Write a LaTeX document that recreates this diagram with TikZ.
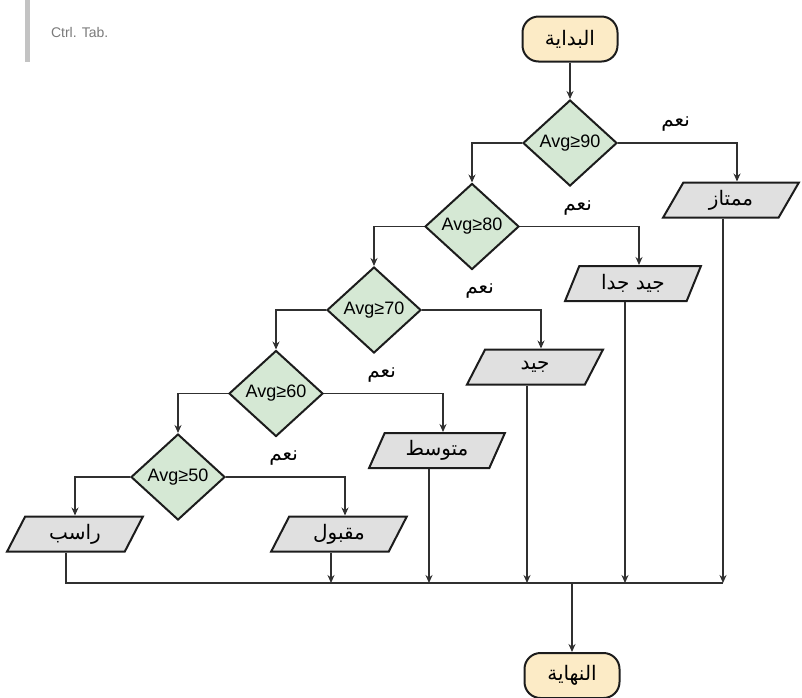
\documentclass[tikz,border=0pt]{standalone}
\usepackage{fontspec}
\setmainfont{Liberation Sans}
\newfontfamily\arabicfont[Script=Arabic]{DejaVu Sans}
\TeXXeTstate=1
\usepackage{tikz}
\usetikzlibrary{positioning,shapes.geometric,arrows.meta}
\definecolor{ink}{HTML}{1C1C1C}
\definecolor{wire}{HTML}{303030}
\definecolor{termfill}{HTML}{FCEBC6}
\definecolor{decfill}{HTML}{D5E8D4}
\definecolor{resfill}{HTML}{E0E0E0}
\definecolor{muted}{HTML}{7A7A7A}
\newcommand{\artxt}[1]{{\normalsize\arabicfont\beginR #1\endR}}

\begin{document}
\begin{tikzpicture}[
  x=0.5pt, y=-0.5pt,
  font=\small,
  on grid,
  term/.style={draw=ink, fill=termfill, line width=1pt, rounded corners=8pt, minimum width=47.5pt, minimum height=22.5pt, inner sep=0pt},
  dec/.style={diamond, draw=ink, fill=decfill, line width=1pt, minimum width=47pt, minimum height=43pt, inner sep=0pt},
  result/.style={trapezium, trapezium left angle=65, trapezium right angle=115, trapezium stretches=true, draw=ink, fill=resfill, line width=1pt, minimum width=68pt, minimum height=17.5pt, inner sep=0pt},
  lbl/.style={inner sep=1pt},
  arr/.style={-{Stealth[length=4pt,width=3.5pt]}, wire, line width=0.9pt},
  wireline/.style={wire, line width=0.9pt},
]
\useasboundingbox (0,0) rectangle (802,697);

% caption mark
\fill[muted!45] (25,0) rectangle (30,62);
\node[font=\scriptsize, text=muted, anchor=west] (cap) at (44,32) {Ctrl. Tab.};

% start and decisions
\node[term] (start) at (570,39) {\artxt{البداية}};
\node[dec, below=52pt of start] (d90) {Avg≥90};
\node[dec, below left=41.75pt and 49pt of d90] (d80) {Avg≥80};
\node[dec, below left=41.75pt and 49pt of d80] (d70) {Avg≥70};
\node[dec, below left=41.75pt and 49pt of d70] (d60) {Avg≥60};
\node[dec, below left=41.75pt and 49pt of d60] (d50) {Avg≥50};

% grades
\node[result, below right=28.5pt and 80.5pt of d90] (mumtaz) {\artxt{ممتاز}};
\node[result, below right=28.5pt and 80.5pt of d80] (jjiddan) {\artxt{جيد جدا}};
\node[result, below right=28.5pt and 80.5pt of d70] (jayyid) {\artxt{جيد}};
\node[result, below right=28.5pt and 80.5pt of d60] (mutaw) {\artxt{متوسط}};
\node[result, below right=28.5pt and 80.5pt of d50] (maqbul) {\artxt{مقبول}};
\node[result, below left=28.5pt and 51.5pt of d50] (rasib) {\artxt{راسب}};

% yes labels
\node[lbl, above right=4.5pt and 20.5pt of d90.east] (y90) {\artxt{نعم}};
\node[lbl, above right=4.5pt and 20.5pt of d80.east] (y80) {\artxt{نعم}};
\node[lbl, above right=4.5pt and 20.5pt of d70.east] (y70) {\artxt{نعم}};
\node[lbl, above right=4.5pt and 20.5pt of d60.east] (y60) {\artxt{نعم}};
\node[lbl, above right=4.5pt and 20.5pt of d50.east] (y50) {\artxt{نعم}};

% end
\coordinate (bus) at (572,583);
\node[term, below=34.5pt of bus] (finish) {\artxt{النهاية}};

% connectors
\draw[arr] (start) -- (d90);
\draw[arr] (d90.west) -| (d80.north);
\draw[arr] (d80.west) -| (d70.north);
\draw[arr] (d70.west) -| (d60.north);
\draw[arr] (d60.west) -| (d50.north);
\draw[arr] (d50.west) -| (rasib.north);
\draw[arr] (d90.east) -| ([xshift=3pt]mumtaz.north);
\draw[arr] (d80.east) -| ([xshift=3pt]jjiddan.north);
\draw[arr] (d70.east) -| ([xshift=3pt]jayyid.north);
\draw[arr] (d60.east) -| ([xshift=3pt]mutaw.north);
\draw[arr] (d50.east) -| ([xshift=3pt]maqbul.north);

\draw[wireline] ([xshift=-4.5pt]rasib.south) |- ([xshift=-4pt]mumtaz.south |- bus);
\foreach \g in {maqbul,mutaw,jayyid,jjiddan,mumtaz}
  \draw[arr] ([xshift=-4pt]\g.south) -- ([xshift=-4pt]\g.south |- bus);
\draw[arr] (bus) -- (finish);

\end{tikzpicture}
\end{document}
